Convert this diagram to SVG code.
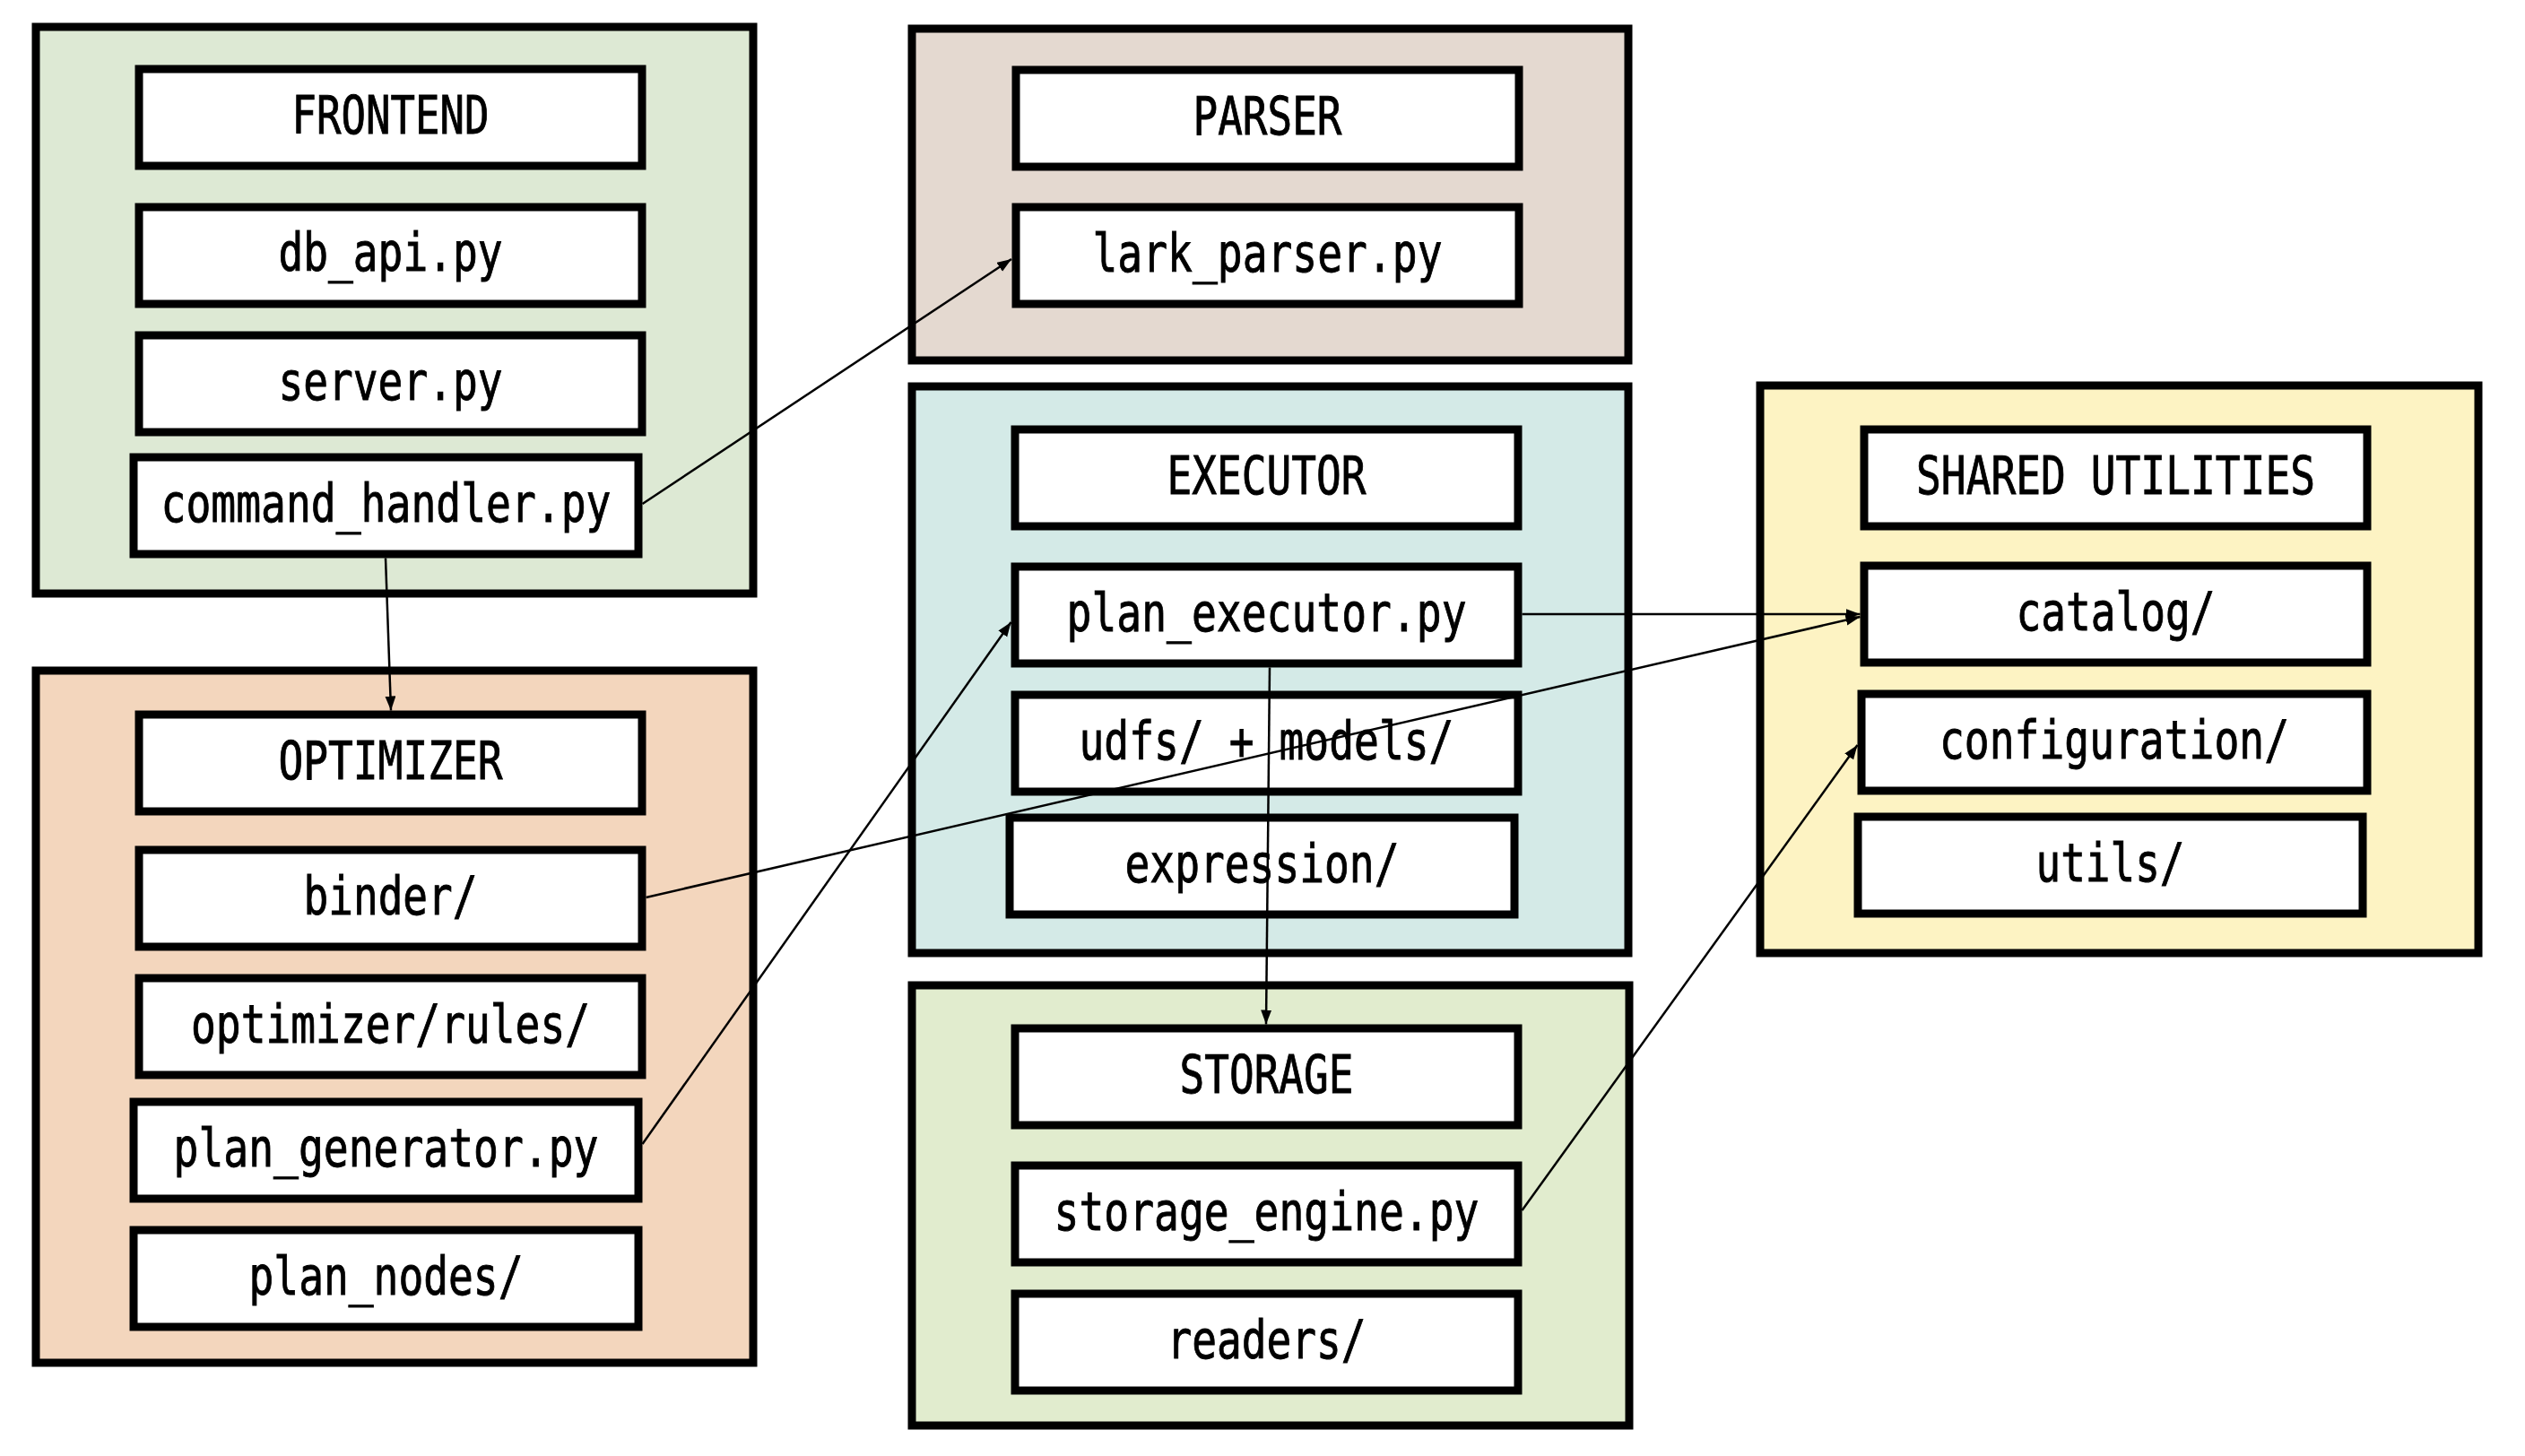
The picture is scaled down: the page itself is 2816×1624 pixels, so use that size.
<svg xmlns="http://www.w3.org/2000/svg" width="2816" height="1624" viewBox="0 0 2816 1624">
<defs>
<marker id="arr" markerUnits="userSpaceOnUse" markerWidth="18" markerHeight="14" refX="16" refY="6" orient="auto">
<path d="M0,0 L16,6 L0,12 z" fill="#000"/>
</marker>
<style>
.grp{stroke:#000;stroke-width:9}
.box{fill:#fff;stroke:#000;stroke-width:9}
.t{font-family:"DejaVu Sans Mono","Liberation Mono",monospace;font-size:58px;fill:#000;stroke:#000;stroke-width:0.9;text-anchor:middle}
.c{fill:none;stroke:#000;stroke-width:2.5;marker-end:url(#arr)}
</style>
</defs>
<rect width="2816" height="1624" fill="#fff"/>

<g id="frontend">
<rect class="grp" x="40" y="30" width="800" height="632" fill="#dde9d4"/>
<g id="frontend-title"><rect class="box" x="155" y="77" width="561" height="108"/><text class="t" x="435.5" y="149" textLength="220" lengthAdjust="spacingAndGlyphs">FRONTEND</text></g>
<g id="db_api"><rect class="box" x="155" y="231" width="561" height="108"/><text class="t" x="435.5" y="302" textLength="250" lengthAdjust="spacingAndGlyphs">db_api.py</text></g>
<g id="server"><rect class="box" x="155" y="374" width="561" height="108"/><text class="t" x="435.5" y="446" textLength="250" lengthAdjust="spacingAndGlyphs">server.py</text></g>
<g id="command_handler"><rect class="box" x="149" y="510" width="563" height="108"/><text class="t" x="430.5" y="582" textLength="502" lengthAdjust="spacingAndGlyphs">command_handler.py</text></g>
</g>

<g id="optimizer">
<rect class="grp" x="40" y="748" width="800" height="772" fill="#f3d6bd"/>
<g id="optimizer-title"><rect class="box" x="155" y="797" width="561" height="108"/><text class="t" x="435.5" y="869" textLength="250" lengthAdjust="spacingAndGlyphs">OPTIMIZER</text></g>
<g id="binder"><rect class="box" x="155" y="948" width="561" height="108"/><text class="t" x="435.5" y="1020" textLength="194" lengthAdjust="spacingAndGlyphs">binder/</text></g>
<g id="optimizer_rules"><rect class="box" x="155" y="1091" width="561" height="108"/><text class="t" x="435.5" y="1163" textLength="445" lengthAdjust="spacingAndGlyphs">optimizer/rules/</text></g>
<g id="plan_generator"><rect class="box" x="149" y="1229" width="563" height="108"/><text class="t" x="430.5" y="1301" textLength="474" lengthAdjust="spacingAndGlyphs">plan_generator.py</text></g>
<g id="plan_nodes"><rect class="box" x="149" y="1372" width="563" height="108"/><text class="t" x="430.5" y="1444" textLength="306" lengthAdjust="spacingAndGlyphs">plan_nodes/</text></g>
</g>

<g id="parser">
<rect class="grp" x="1017" y="32" width="799" height="370" fill="#e4d9d0"/>
<g id="parser-title"><rect class="box" x="1133" y="78" width="561" height="108"/><text class="t" x="1413.5" y="150" textLength="166" lengthAdjust="spacingAndGlyphs">PARSER</text></g>
<g id="lark_parser"><rect class="box" x="1133" y="231" width="561" height="108"/><text class="t" x="1413.5" y="303" textLength="390" lengthAdjust="spacingAndGlyphs">lark_parser.py</text></g>
</g>

<g id="executor">
<rect class="grp" x="1017" y="431" width="799" height="632" fill="#d4eae7"/>
<g id="executor-title"><rect class="box" x="1132" y="479" width="561" height="108"/><text class="t" x="1412.5" y="551" textLength="222" lengthAdjust="spacingAndGlyphs">EXECUTOR</text></g>
<g id="plan_executor"><rect class="box" x="1132" y="632" width="561" height="108"/><text class="t" x="1412.5" y="704" textLength="446" lengthAdjust="spacingAndGlyphs">plan_executor.py</text></g>
<g id="udfs_models"><rect class="box" x="1132" y="775" width="561" height="108"/><text class="t" x="1412.5" y="847" textLength="418" lengthAdjust="spacingAndGlyphs">udfs/ + models/</text></g>
<g id="expression"><rect class="box" x="1126" y="912" width="563" height="108"/><text class="t" x="1407.5" y="984" textLength="306" lengthAdjust="spacingAndGlyphs">expression/</text></g>
</g>

<g id="storage">
<rect class="grp" x="1017" y="1099" width="800" height="491" fill="#e1ecce"/>
<g id="storage-title"><rect class="box" x="1132" y="1147" width="561" height="108"/><text class="t" x="1412.5" y="1219" textLength="194" lengthAdjust="spacingAndGlyphs">STORAGE</text></g>
<g id="storage_engine"><rect class="box" x="1132" y="1300" width="561" height="108"/><text class="t" x="1412.5" y="1372" textLength="474" lengthAdjust="spacingAndGlyphs">storage_engine.py</text></g>
<g id="readers"><rect class="box" x="1132" y="1443" width="561" height="108"/><text class="t" x="1412.5" y="1515" textLength="222" lengthAdjust="spacingAndGlyphs">readers/</text></g>
</g>

<g id="shared">
<rect class="grp" x="1963" y="430" width="801" height="633" fill="#fdf3c3"/>
<g id="shared-title"><rect class="box" x="2079" y="479" width="561" height="108"/><text class="t" x="2359.5" y="551" textLength="445" lengthAdjust="spacingAndGlyphs">SHARED UTILITIES</text></g>
<g id="catalog"><rect class="box" x="2079" y="631" width="561" height="108"/><text class="t" x="2359.5" y="703" textLength="222" lengthAdjust="spacingAndGlyphs">catalog/</text></g>
<g id="configuration"><rect class="box" x="2076" y="774" width="564" height="108"/><text class="t" x="2358" y="846" textLength="390" lengthAdjust="spacingAndGlyphs">configuration/</text></g>
<g id="utils"><rect class="box" x="2072" y="911" width="563" height="108"/><text class="t" x="2353.5" y="983" textLength="166" lengthAdjust="spacingAndGlyphs">utils/</text></g>
</g>

<g id="connectors">
<path class="c" d="M716.5,562 L1128,289"/>
<path class="c" d="M430,622.5 L436,792.5"/>
<path class="c" d="M720.5,1001 L2074.5,688"/>
<path class="c" d="M716.5,1276 L1127.5,694"/>
<path class="c" d="M1697.5,685 L2074.5,685"/>
<path class="c" d="M1416,744.5 L1412,1142.5"/>
<path class="c" d="M1697.5,1350 L2071.5,831"/>
</g>
</svg>
